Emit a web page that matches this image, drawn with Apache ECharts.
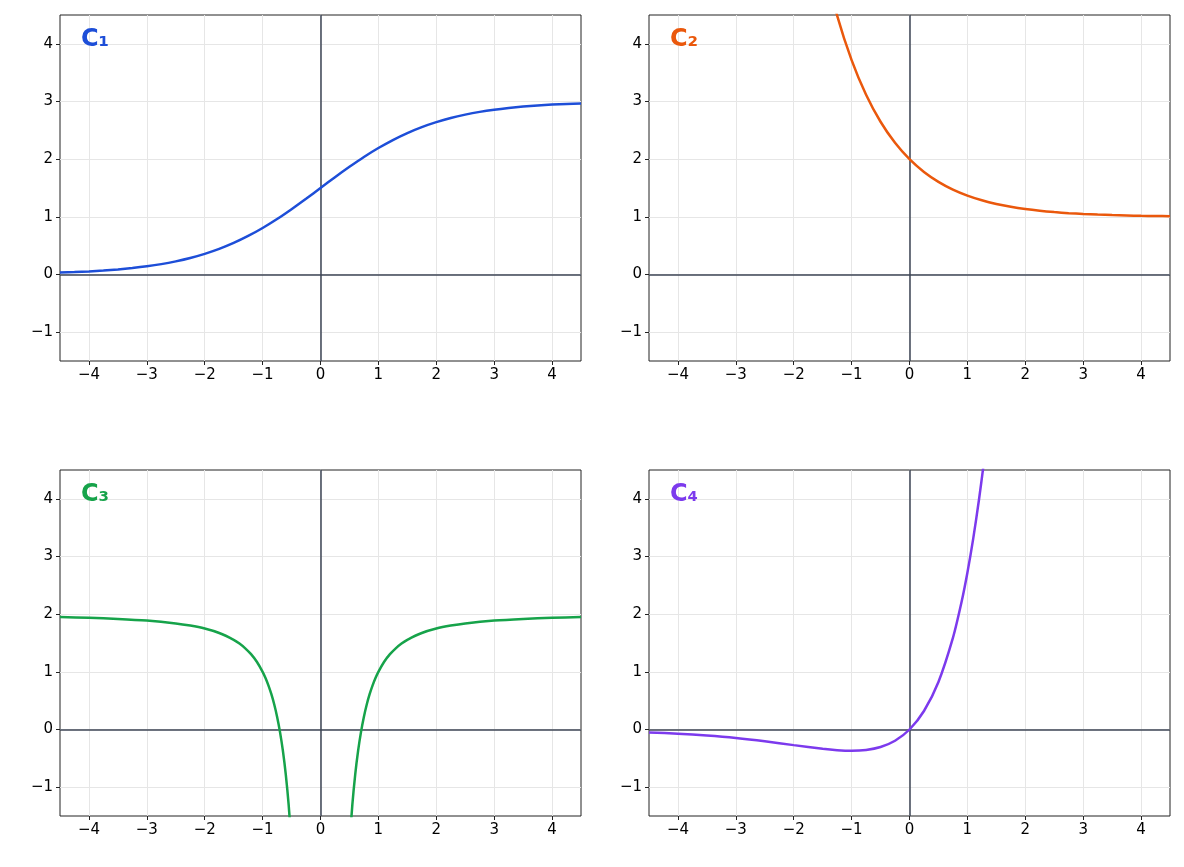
<!DOCTYPE html>
<html><head><meta charset="utf-8">
<script src="https://cdn.jsdelivr.net/npm/echarts@6/dist/echarts.min.js"></script>
<style>html,body{margin:0;padding:0;background:#fff}#c{width:1184px;height:867px}</style>
</head><body><div id="c"></div>
<script>
const xTicks = [-4,-3,-2,-1,0,1,2,3,4];
const yTicks = [-1,0,1,2,3,4];
const names = ['C₁','C₂','C₃','C₄'];
const colors = ['#1d4ed8','#ea580c','#16a34a','#7c3aed'];

const c1x = [-4.5,-4.25,-4,-3.75,-3.5,-3.25,-3,-2.75,-2.5,-2.25,-2,-1.75,-1.5,-1.25,-1,-0.75,-0.5,-0.25,0,0.25,0.5,0.75,1,1.25,1.5,1.75,2,2.25,2.5,2.75,3,3.25,3.5,3.75,4,4.25,4.5];
const c1y = [0.033,0.042,0.054,0.069,0.088,0.112,0.142,0.180,0.228,0.286,0.358,0.444,0.547,0.668,0.807,0.962,1.133,1.313,1.5,1.687,1.867,2.038,2.193,2.332,2.453,2.556,2.642,2.714,2.772,2.820,2.858,2.888,2.912,2.931,2.946,2.958,2.967];

const c2x = [-1.5,-1.25,-1,-0.75,-0.5,-0.25,0,0.25,0.5,0.75,1,1.25,1.5,1.75,2,2.25,2.5,2.75,3,3.25,3.5,3.75,4,4.25,4.5];
const c2y = [5.48,4.49,3.718,3.117,2.649,2.284,2,1.779,1.607,1.472,1.368,1.287,1.223,1.174,1.135,1.105,1.082,1.064,1.050,1.039,1.030,1.024,1.018,1.014,1.011];

const c3x = [-4.5,-4,-3.5,-3,-2.5,-2.25,-2,-1.75,-1.5,-1.4,-1.3,-1.2,-1.1,-1,-0.95,-0.9,-0.85,-0.8,-0.75,-0.7,-0.65,-0.6,-0.55,-0.5,null,0.5,0.55,0.6,0.65,0.7,0.75,0.8,0.85,0.9,0.95,1,1.1,1.2,1.3,1.4,1.5,1.75,2,2.25,2.5,3,3.5,4,4.5];
const c3y = [1.951,1.9375,1.918,1.889,1.84,1.802,1.75,1.673,1.556,1.490,1.408,1.306,1.174,1,0.892,0.765,0.616,0.4375,0.222,-0.041,-0.367,-0.778,-1.306,-2,null,-2,-1.306,-0.778,-0.367,-0.041,0.222,0.4375,0.616,0.765,0.892,1,1.174,1.306,1.408,1.490,1.556,1.673,1.75,1.802,1.84,1.889,1.918,1.9375,1.951];

const c4x = [-4.5,-4,-3.5,-3,-2.5,-2,-1.5,-1.25,-1,-0.75,-0.5,-0.25,0,0.25,0.5,0.75,0.9,1,1.1,1.2,1.3,1.5];
const c4y = [-0.050,-0.073,-0.106,-0.149,-0.205,-0.271,-0.335,-0.358,-0.368,-0.354,-0.303,-0.195,0,0.321,0.824,1.588,2.214,2.718,3.305,3.984,4.770,6.723];

const xs = [c1x,c2x,c3x,c4x], ys = [c1y,c2y,c3y,c4y];
const pos = [[60,15],[649,15],[60,470],[649,470]];
const W = 521, H = 346;

const grid=[],xAxis=[],yAxis=[],series=[],title=[];
pos.forEach((p,i)=>{
  grid.push({left:p[0],top:p[1],width:W,height:H,show:true,borderColor:'#222',borderWidth:1,backgroundColor:'transparent'});
  const common = (ticks)=>({
    axisLine:{show:false,onZero:false},
    axisTick:{show:true,length:4,lineStyle:{color:'#222'},customValues:ticks,inside:false},
    axisLabel:{color:'#000',fontSize:15,fontFamily:'DejaVu Sans',margin:7,customValues:ticks,formatter:v=>String(v).replace('-','−')},
    splitLine:{show:true,lineStyle:{color:'#e6e6e6',width:1}}
  });
  xAxis.push(Object.assign({type:'value',gridIndex:i,min:-4.5,max:4.5,position:'bottom'},common(xTicks)));
  yAxis.push(Object.assign({type:'value',gridIndex:i,min:-1.5,max:4.5,position:'left'},common(yTicks)));
  const data = xs[i].map((x,k)=> x===null ? [null,null] : [x,ys[i][k]]);
  series.push({type:'line',xAxisIndex:i,yAxisIndex:i,data:data,showSymbol:false,smooth:0.25,connectNulls:false,
    lineStyle:{color:colors[i],width:2.5},clip:true,z:3,
    markLine:{silent:true,symbol:'none',label:{show:false},lineStyle:{color:'#3c4454',width:1.5,type:'solid'},z:2,
      data:[{xAxis:0},{yAxis:0}]}});
  title.push({text:names[i],left:p[0]+16,top:p[1]+8,textStyle:{color:colors[i],fontSize:24,fontWeight:'bold',fontFamily:'DejaVu Sans'}});
});
const chart = echarts.init(document.getElementById('c'));
chart.setOption({animation:false,title,grid,xAxis,yAxis,series});
</script></body></html>
